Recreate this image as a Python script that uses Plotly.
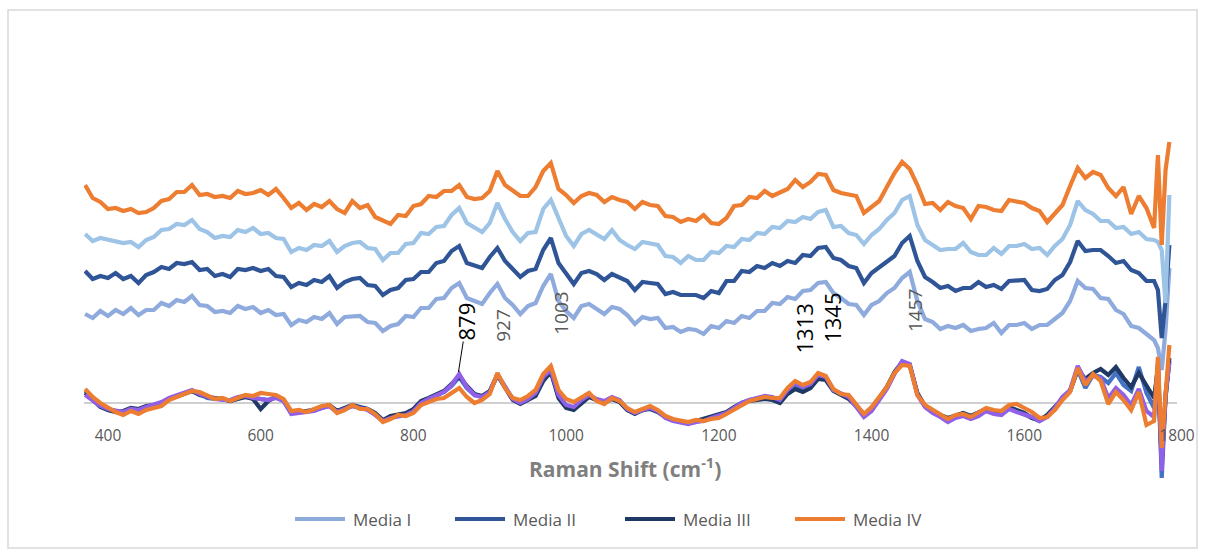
import plotly.graph_objects as go

# Raman shift axis (cm-1); finer steps near the detector edge
wavenumber = list(range(370, 1771, 10)) + [1775, 1780, 1785, 1790]

# Offset (stacked) spectra, arbitrary intensity units
media_iv_offset = [218,205,201,194,195,192,194,190,191,195,
 202,204,211,211,218,208,209,206,207,205,
 212,209,210,213,208,214,205,195,200,193,
 199,196,202,194,190,202,195,198,186,182,
 179,188,187,197,199,207,206,212,212,218,
 206,204,205,212,232,218,212,207,207,216,
 232,240,214,208,200,207,210,208,201,206,
 203,201,194,201,198,197,187,186,181,184,
 182,188,180,179,185,197,198,206,205,212,
 207,210,214,223,216,221,229,228,213,210,
 209,207,190,196,202,216,230,241,234,218,
 199,200,193,201,197,195,184,197,196,193,
 192,203,201,200,195,192,181,190,198,217,
 235,225,231,228,215,207,216,189,207,195,
 175,248,158,233,261]

media_iii_offset = [169,162,165,163,162,160,161,156,163,166,
 173,174,179,178,183,174,171,165,167,166,
 173,171,175,169,170,165,164,151,155,153,
 158,157,162,151,157,160,161,155,154,143,
 150,150,159,160,170,169,176,177,188,195,
 180,175,171,180,200,184,171,162,170,171,
 194,203,184,167,157,169,173,168,164,173,
 163,158,154,161,159,158,147,146,140,147,
 143,143,151,150,157,156,164,163,170,169,
 176,175,182,181,186,184,191,193,176,177,
 170,168,159,168,174,183,190,203,207,178,
 163,158,153,154,154,160,151,148,148,155,
 149,157,157,159,154,155,148,157,164,178,
 202,193,189,182,182,175,176,169,171,164,
 163,161,153,100,208]

media_ii_offset = [132,124,127,125,130,124,127,120,128,131,
 136,134,140,139,141,133,134,127,129,126,
 134,133,135,132,134,127,126,116,120,118,
 123,121,127,115,121,124,125,118,117,108,
 113,115,123,124,131,131,140,142,152,157,
 140,137,135,146,155,142,134,126,132,134,
 153,165,140,130,119,130,132,129,123,129,
 126,122,113,121,120,119,109,111,108,108,
 108,105,112,110,122,122,132,131,137,135,
 140,137,142,140,148,147,155,156,145,143,
 137,135,120,130,136,142,147,160,167,142,
 126,121,115,117,112,115,115,121,116,118,
 114,122,122,123,113,112,114,123,128,141,
 162,152,153,153,147,140,142,133,130,122,
 122,113,65,103,158]

media_i_offset = [89,85,92,87,93,89,95,88,93,93,
 100,97,103,101,107,98,97,91,92,90,
 97,94,96,90,93,88,89,78,83,81,
 86,84,90,79,86,87,87,81,80,72,
 77,79,87,86,95,95,104,105,115,120,
 105,102,99,110,119,105,98,89,97,100,
 117,129,102,92,85,97,99,94,89,96,
 94,88,79,86,84,85,75,76,71,74,
 73,69,77,75,82,80,87,85,92,92,
 100,99,106,104,112,113,120,121,110,105,
 99,98,88,98,102,110,115,125,131,102,
 84,81,74,77,75,78,72,74,75,80,
 70,78,78,80,74,78,78,84,90,102,
 122,115,114,105,104,93,89,77,75,69,
 63,55,33,73,135]

# Baseline-level spectra, overlaid
media_i_base = [12,4,-2,-7,-8,-10,-7,-8,-5,-3,
 0,4,7,10,12,9,5,4,4,2,
 5,6,5,3,3,6,2,-10,-9,-9,
 -7,-5,-3,-9,-6,-3,-5,-6,-11,-18,
 -14,-12,-11,-7,1,4,8,11,17,26,
 15,8,6,11,28,16,4,0,4,9,
 24,32,7,-3,-5,2,7,3,1,5,
 2,-6,-10,-8,-5,-8,-14,-17,-19,-20,
 -19,-17,-15,-13,-10,-5,0,3,4,6,
 5,2,11,17,14,17,26,25,13,9,
 5,-3,-12,-7,4,15,30,40,38,9,
 -3,-9,-13,-17,-14,-12,-15,-12,-7,-10,
 -11,-5,-8,-11,-15,-18,-13,-5,5,12,
 33,15,28,26,20,30,18,12,36,10,
 -5,38,-75,6,42]

media_iii_base = [10,3,-4,-7,-9,-8,-5,-6,-3,-2,
 0,4,7,9,12,8,6,5,4,2,
 4,6,4,-6,2,6,3,-9,-9,-8,
 -7,-4,-2,-8,-5,-2,-4,-6,-10,-17,
 -13,-12,-10,-6,2,5,9,12,19,27,
 17,9,7,12,28,15,3,-1,3,7,
 22,31,5,-5,-7,0,6,3,0,4,
 1,-7,-11,-7,-6,-9,-14,-17,-19,-20,
 -18,-16,-14,-12,-9,-4,0,2,3,4,
 3,0,9,14,11,15,24,23,12,8,
 4,-3,-11,-6,5,16,31,41,38,10,
 -3,-8,-12,-15,-13,-10,-13,-10,-6,-9,
 -9,-4,-7,-10,-15,-17,-12,-4,4,12,
 34,24,30,34,28,36,25,16,30,18,
 5,35,-60,5,45]

media_ii_base = [8,2,-3,-6,-8,-9,-6,-7,-4,-2,
 1,5,8,11,13,9,6,4,3,3,
 6,7,5,4,3,5,2,-11,-10,-8,
 -8,-5,-3,-9,-6,-3,-5,-7,-12,-18,
 -15,-13,-12,-8,0,4,8,11,18,29,
 16,8,6,11,29,17,4,0,4,10,
 26,33,8,-2,-4,3,8,4,2,6,
 3,-6,-10,-7,-5,-8,-15,-18,-19,-21,
 -19,-18,-15,-13,-10,-5,0,3,5,7,
 6,3,13,20,16,19,28,26,13,10,
 6,-4,-14,-8,3,14,29,42,39,8,
 -4,-10,-14,-19,-15,-13,-16,-13,-8,-11,
 -12,-6,-9,-11,-14,-18,-14,-5,6,13,
 37,22,27,25,5,15,8,-2,14,-8,
 -14,40,-68,10,40]

media_iv_base = [14,6,0,-5,-9,-12,-8,-11,-7,-5,
 -3,3,6,9,12,11,7,4,5,2,
 5,8,7,10,9,8,4,-8,-7,-9,
 -6,-3,-2,-10,-7,-2,-6,-6,-11,-19,
 -16,-12,-13,-10,-2,1,4,5,10,15,
 6,0,3,9,30,15,5,3,7,13,
 29,37,13,4,1,6,10,2,-1,5,
 2,-5,-9,-6,-3,-7,-13,-16,-18,-19,
 -17,-18,-16,-15,-11,-7,-2,2,4,6,
 5,5,15,22,18,21,30,27,14,9,
 8,-1,-11,-4,6,16,30,38,37,8,
 -2,-7,-12,-16,-12,-11,-14,-9,-5,-7,
 -8,-2,-1,-5,-9,-15,-14,-7,3,11,
 35,18,29,22,-1,11,3,-7,11,-22,
 -18,46,-45,8,58]

x_ticks = [400, 600, 800, 1000, 1200, 1400, 1600, 1800]

# Peak labels: (wavenumber text, label centre x, label centre y, size, colour)
peak_labels = [
    ("927", 917, 78, 19, "#595959"),
    ("1003", 993, 90, 19, "#595959"),
    ("1313", 1311, 74, 22, "#000000"),
    ("1345", 1348, 85, 22, "#000000"),
    ("1457", 1457, 92, 19, "#595959"),
]

legend_items = [("Media I", "#8faadc"), ("Media II", "#2f5597"),
                ("Media III", "#1f3864"), ("Media IV", "#ed7d31")]

ORANGE = "#ed7d31"
FONT = "Open Sans"
LINE_W = 4.2

series = [
    (media_i_offset, "#8faadc", "Media I (offset)"),
    (media_ii_offset, "#2f5597", "Media II (offset)"),
    (media_iii_offset, "#9dc3e6", "Media III (offset)"),
    (media_iv_offset, ORANGE, "Media IV (offset)"),
    (media_i_base, "#4472c4", "Media I"),
    (media_iii_base, "#1f3864", "Media III"),
    (media_ii_base, "#9160e8", "Media II"),
    (media_iv_base, ORANGE, "Media IV"),
]

fig = go.Figure()
for values, color, name in series:
    fig.add_trace(go.Scatter(x=wavenumber, y=values, mode="lines", name=name,
                             line=dict(color=color, width=LINE_W), showlegend=False))

# plot-area geometry in page pixels
PL, PR, PT, PB = 84, 1177, 20, 492
def px_x(p):
    return (p - PL) / (PR - PL)
def px_y(p):
    return (PB - p) / (PB - PT)

fig.update_layout(
    width=1205, height=552,
    margin=dict(l=PL, r=1205 - PR, t=PT, b=552 - PB),
    paper_bgcolor="white", plot_bgcolor="white",
    font=dict(family=FONT, color="#595959"),
    showlegend=False,
    xaxis=dict(range=[368.6, 1800], tickvals=x_ticks, ticks="", showgrid=False,
               zeroline=False, showline=False, anchor="free", position=px_y(424),
               tickfont=dict(size=15.5, color="#595959"), automargin=False),
    yaxis=dict(range=[-89, 383], showticklabels=False, ticks="", showgrid=False,
               showline=False, zeroline=True, zerolinecolor="#d0d0d0",
               zerolinewidth=2, automargin=False),
)

annotations = []
# 879 label with leader line to the peak
annotations.append(dict(x=859, y=31, xref="x", yref="y", text="879", textangle=-90,
                        showarrow=True, arrowhead=0, arrowwidth=1, arrowcolor="#000000",
                        ax=8, ay=-51, standoff=0,
                        font=dict(size=22, color="#000000", family=FONT)))
for txt, xc, yc, size, col in peak_labels:
    annotations.append(dict(x=xc, y=yc, xref="x", yref="y", text=txt, textangle=-90,
                            showarrow=False, font=dict(size=size, color=col, family=FONT)))

# axis title
annotations.append(dict(x=px_x(625), y=px_y(467), xref="paper", yref="paper",
                        xanchor="center", yanchor="middle",
                        text="<b>Raman Shift (cm<sup>-1</sup>)</b>", showarrow=False,
                        font=dict(size=21, color="#7f7f7f", family=FONT)))

shapes = []
line_starts = [295, 455, 625, 795]
for (label, color), x0 in zip(legend_items, line_starts):
    shapes.append(dict(type="line", xref="paper", yref="paper",
                       x0=px_x(x0), x1=px_x(x0 + 50), y0=px_y(519), y1=px_y(519),
                       line=dict(color=color, width=LINE_W)))
    annotations.append(dict(x=px_x(x0 + 56), y=px_y(519), xref="paper", yref="paper",
                            text=label, showarrow=False, xanchor="left", yanchor="middle",
                            font=dict(size=17, color="#595959", family=FONT)))

# chart border
shapes.append(dict(type="rect", xref="paper", yref="paper",
                   x0=px_x(8), x1=px_x(1197), y0=px_y(548), y1=px_y(10),
                   line=dict(color="#d9d9d9", width=1.5), layer="below"))

fig.update_layout(annotations=annotations, shapes=shapes)
fig.write_html("out.html")
